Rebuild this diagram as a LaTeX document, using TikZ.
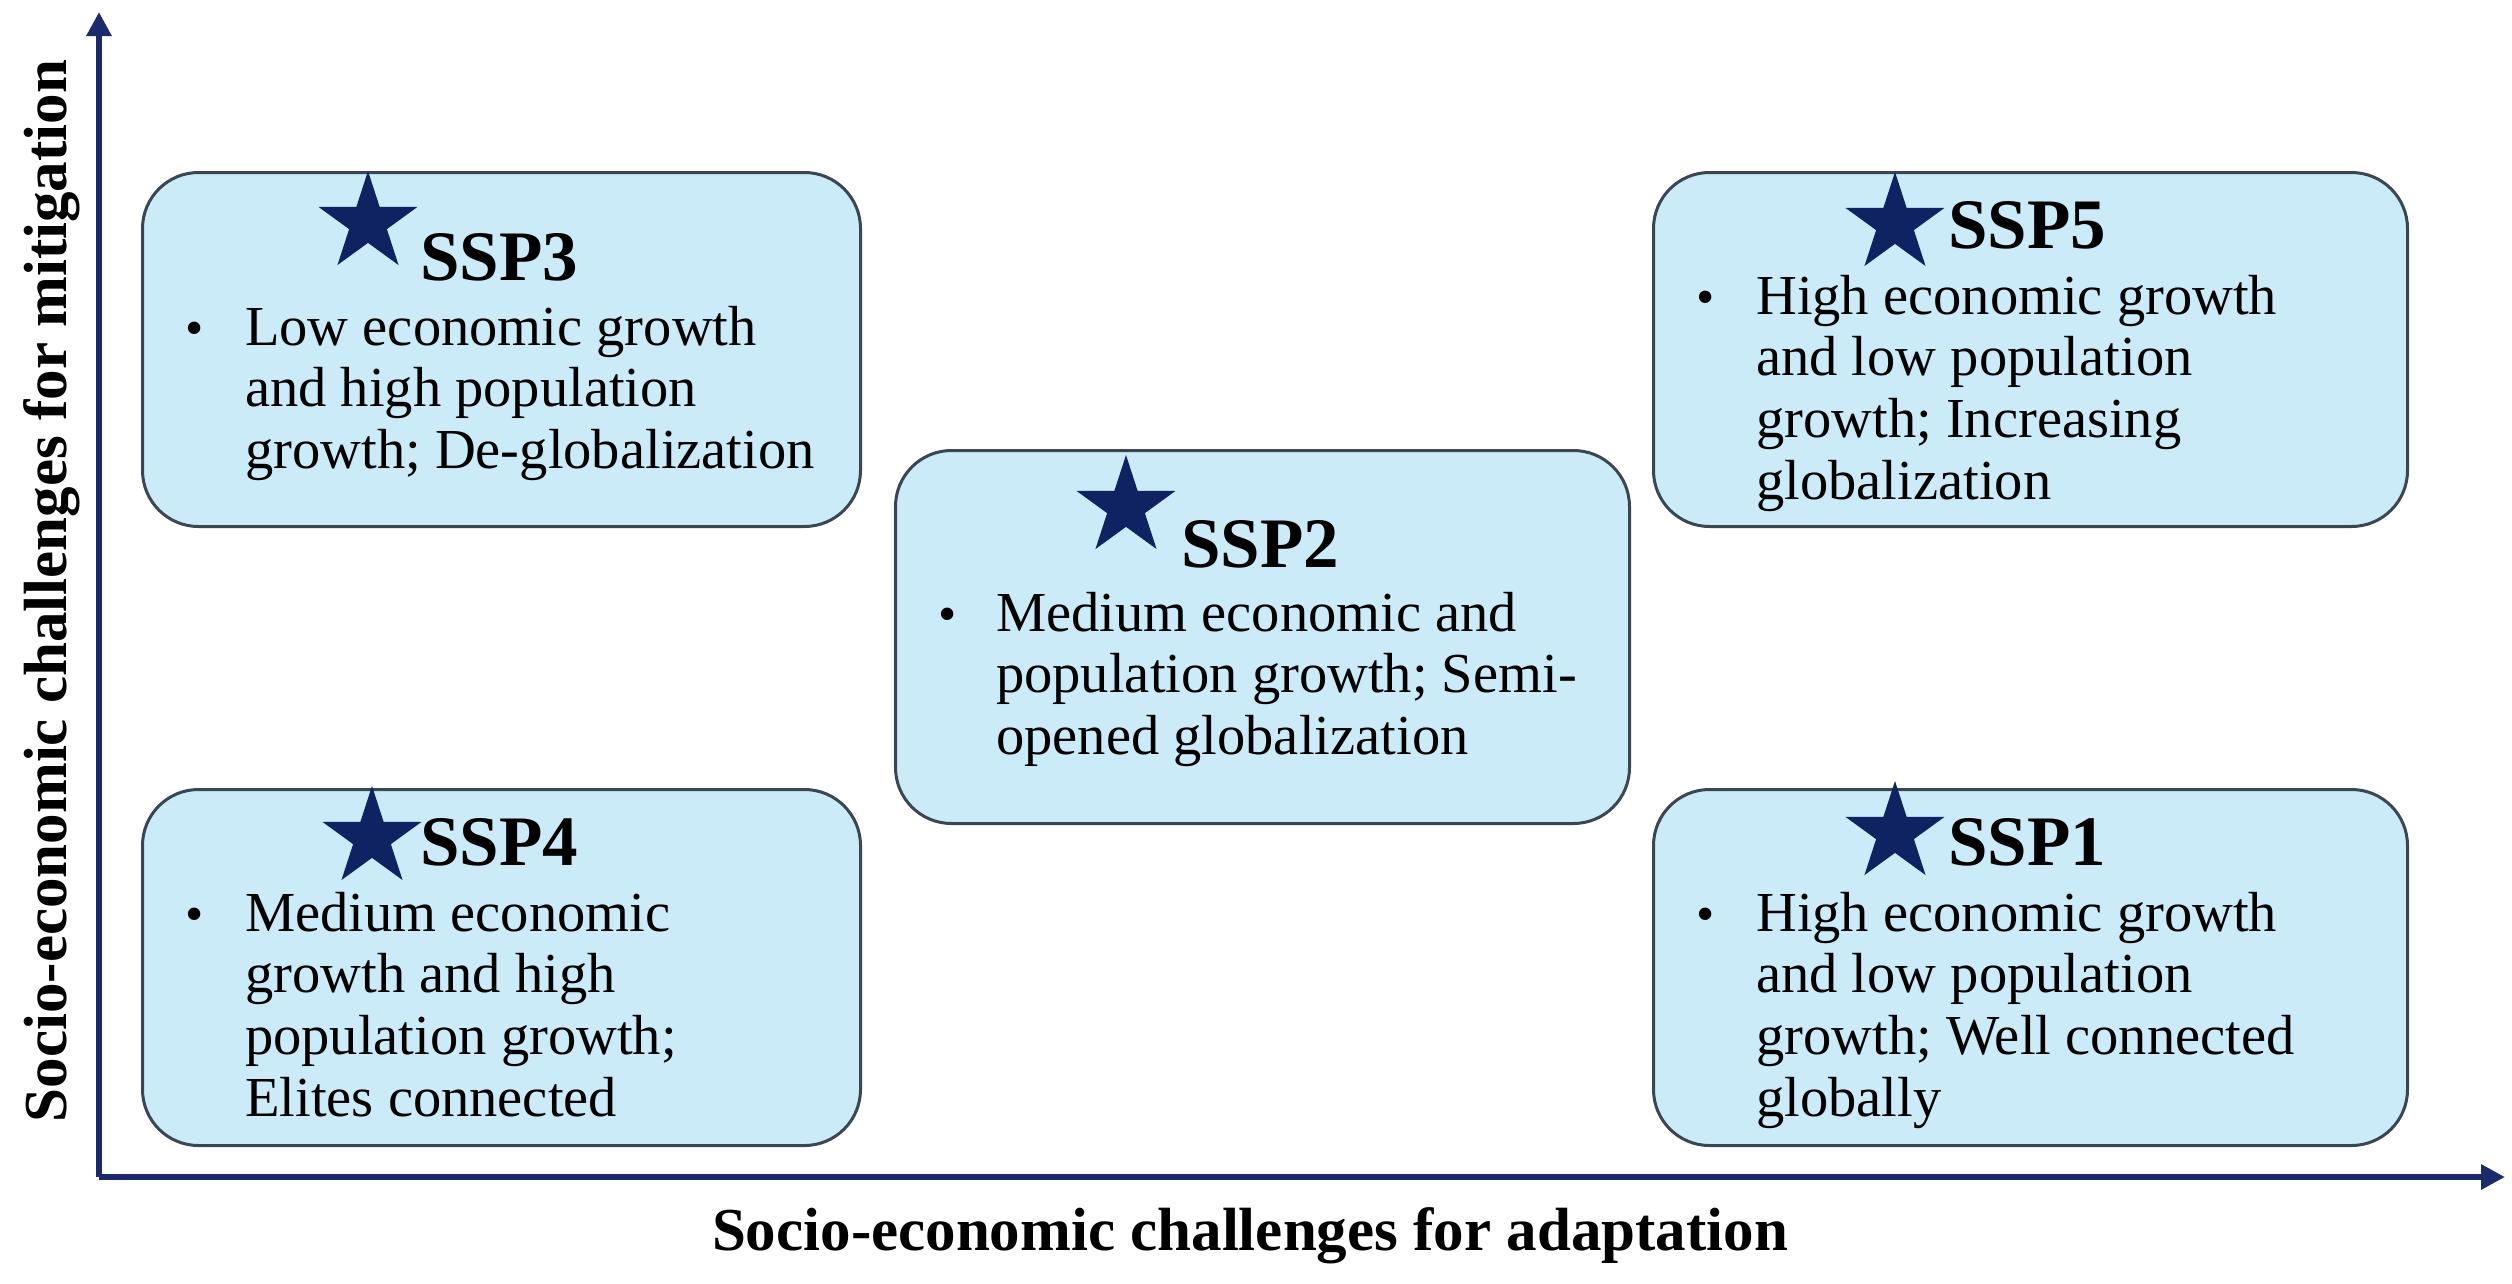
\documentclass[tikz,border=0pt]{standalone}
\usepackage{fontspec}
\setmainfont{Liberation Serif}
\usetikzlibrary{shapes.geometric,arrows.meta,calc}
\definecolor{boxfill}{HTML}{CBEBF9}
\definecolor{boxline}{HTML}{3A4652}
\definecolor{starc}{HTML}{0F2262}
\definecolor{axisc}{HTML}{1B2A6B}
\begin{document}
\begin{tikzpicture}[x=1pt,y=-1pt,
  ssbox/.style={draw=boxline,line width=3pt,fill=boxfill,rounded corners=56pt,anchor=north west,inner sep=0pt},
  sstar/.style={star,star points=5,star point ratio=2.618,fill=starc,minimum size=104pt,inner sep=0pt},
  sstitle/.style={anchor=base west,inner sep=0pt,font=\fontsize{71}{75}\selectfont\bfseries},
  ssbul/.style={anchor=base west,inner sep=0pt,font=\fontsize{52}{61.7}\selectfont},
  sstext/.style={anchor=base west,inner sep=0pt,font=\fontsize{56.5}{61.7}\selectfont},
  axlab/.style={inner sep=0pt,anchor=base,font=\fontsize{61}{66}\selectfont\bfseries},
  axis/.style={draw=axisc,line width=6pt,-{Triangle[length=24pt,width=24pt]}}]
\useasboundingbox (0,0) rectangle (2512,1283);
\newcommand{\sstxt}[1]{\parbox[t]{760pt}{\raggedright #1}}
% boxes
\node[ssbox,minimum width=718pt,minimum height=354pt] (b3) at (141,171) {};
\node[ssbox,minimum width=734pt,minimum height=373pt] (b2) at (894,449) {};
\node[ssbox,minimum width=754pt,minimum height=354pt] (b5) at (1652,171) {};
\node[ssbox,minimum width=718pt,minimum height=356pt] (b4) at (141,788) {};
\node[ssbox,minimum width=754pt,minimum height=356pt] (b1) at (1652,788) {};
% SSP3
\node[sstar] (s3) at ($(b3.north west)+(227,52)$) {};
\node[sstitle] (t3) at ($(b3.north west)+(279,109)$) {SSP3};
\node[ssbul] (u3) at ($(b3.north west)+(44,174)$) {\textbullet};
\node[sstext] (x3) at ($(b3.north west)+(104,174)$) {\sstxt{Low economic growth\\and high population\\growth; De-globalization}};
% SSP2
\node[sstar] (s2) at ($(b2.north west)+(232,58)$) {};
\node[sstitle] (t2) at ($(b2.north west)+(287,118)$) {SSP2};
\node[ssbul] (u2) at ($(b2.north west)+(44,182)$) {\textbullet};
\node[sstext] (x2) at ($(b2.north west)+(102,182)$) {\sstxt{Medium economic and\\population growth; Semi-\\opened globalization}};
% SSP5
\node[sstar] (s5) at ($(b5.north west)+(243,53)$) {};
\node[sstitle] (t5) at ($(b5.north west)+(296,77)$) {SSP5};
\node[ssbul] (u5) at ($(b5.north west)+(44,143)$) {\textbullet};
\node[sstext] (x5) at ($(b5.north west)+(104,143)$) {\sstxt{High economic growth\\and low population\\growth; Increasing\\globalization}};
% SSP4
\node[sstar] (s4) at ($(b4.north west)+(231,50)$) {};
\node[sstitle] (t4) at ($(b4.north west)+(279,77)$) {SSP4};
\node[ssbul] (u4) at ($(b4.north west)+(44,143)$) {\textbullet};
\node[sstext] (x4) at ($(b4.north west)+(104,143)$) {\sstxt{Medium economic\\growth and high\\population growth;\\Elites connected}};
% SSP1
\node[sstar] (s1) at ($(b1.north west)+(243,45)$) {};
\node[sstitle] (t1) at ($(b1.north west)+(296,77)$) {SSP1};
\node[ssbul] (u1) at ($(b1.north west)+(44,143)$) {\textbullet};
\node[sstext] (x1) at ($(b1.north west)+(104,143)$) {\sstxt{High economic growth\\and low population\\growth; Well connected\\globally}};
% axes
\coordinate (O) at (99,1177);
\coordinate (ytop) at (99,12);
\coordinate (xend) at (2505,1177);
\draw[axis] (O) -- (ytop);
\draw[axis] (O) -- (xend);
\node[axlab] (xl) at (1250,1250) {Socio-economic challenges for adaptation};
\node[axlab,rotate=90] (yl) at (66,591) {Socio-economic challenges for mitigation};
\end{tikzpicture}
\end{document}
